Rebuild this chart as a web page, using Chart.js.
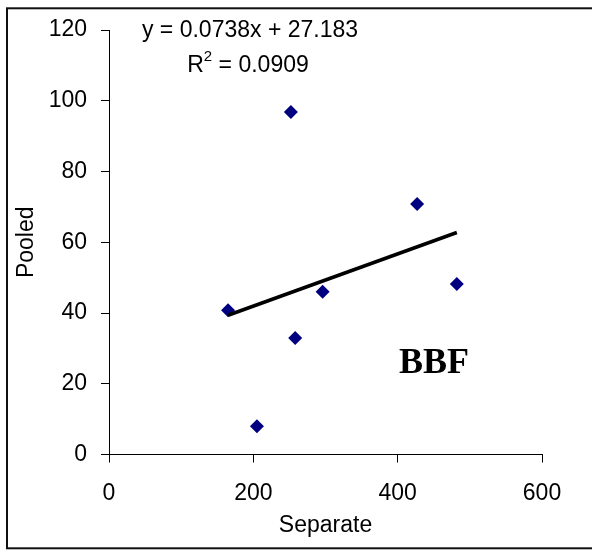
<!DOCTYPE html>
<html>
<head>
<meta charset="utf-8">
<script src="https://cdn.jsdelivr.net/npm/chart.js@4/dist/chart.umd.min.js"></script>
<style>
  html, body { margin: 0; padding: 0; background: #fff; }
  #wrap { width: 592px; height: 550px; }
</style>
</head>
<body>
<div id="wrap"><canvas id="bbfChart" width="592" height="550"></canvas></div>
<script>
const separate = [165, 205, 252, 258, 296, 427, 482];
const pooled = [40.8, 8, 96.8, 32.9, 46, 70.8, 48.2];
const xTicks = [0, 200, 400, 600];
const yTicks = [0, 20, 40, 60, 80, 100, 120];

// trendline as printed on the chart
const slope = 0.0738;
const intercept = 27.183;
const eqLabel = 'y = 0.0738x + 27.183';
const r2Label = '0.0909';
const tagLabel = 'BBF';

const sans = '"Liberation Sans", Arial, sans-serif';
const serif = '"Liberation Serif", "Times New Roman", serif';

const points = separate.map((x, i) => ({ x: x, y: pooled[i] }));
const xMin = Math.min(...separate);
const xMax = Math.max(...separate);
const trend = [
  { x: xMin, y: slope * xMin + intercept },
  { x: xMax, y: slope * xMax + intercept }
];

// white page + frame
const frame = {
  id: 'frame',
  beforeDraw(chart) {
    const ctx = chart.ctx;
    ctx.save();
    ctx.fillStyle = '#fff';
    ctx.fillRect(0, 0, chart.width, chart.height);
    ctx.strokeStyle = '#111';
    ctx.lineWidth = 2;
    ctx.strokeRect(7, 8.3, 600, 540);
    ctx.restore();
  }
};

// equation, R squared and the BBF tag
const notes = {
  id: 'notes',
  afterDraw(chart) {
    const ctx = chart.ctx;
    ctx.save();
    ctx.fillStyle = '#000';
    ctx.textBaseline = 'alphabetic';
    ctx.font = '23px ' + sans;
    ctx.textAlign = 'center';
    ctx.fillText(eqLabel, 250, 37);

    ctx.textAlign = 'left';
    const big = '23px ' + sans;
    const small = '15px ' + sans;
    ctx.font = big;
    const wR = ctx.measureText('R').width;
    const wRest = ctx.measureText(' = ' + r2Label).width;
    ctx.font = small;
    const w2 = ctx.measureText('2').width;
    let x = 248 - (wR + w2 + wRest) / 2;
    ctx.font = big;
    ctx.fillText('R', x, 72);
    x += wR;
    ctx.font = small;
    ctx.fillText('2', x, 61);
    x += w2;
    ctx.font = big;
    ctx.fillText(' = ' + r2Label, x, 72);

    ctx.font = 'bold 36px ' + serif;
    ctx.textAlign = 'center';
    ctx.fillText(tagLabel, 434, 373);
    ctx.restore();
  }
};

new Chart(document.getElementById('bbfChart'), {
  type: 'scatter',
  data: {
    datasets: [
      {
        label: 'trend',
        data: trend,
        showLine: true,
        borderColor: '#000',
        borderWidth: 3.5,
        pointRadius: 0,
        pointHoverRadius: 0,
        fill: false
      },
      {
        label: 'BBF',
        data: points,
        pointStyle: 'rectRot',
        pointRadius: 7,
        pointHoverRadius: 7,
        backgroundColor: '#000080',
        borderColor: '#000080',
        borderWidth: 0
      }
    ]
  },
  options: {
    responsive: false,
    animation: false,
    layout: { padding: { left: 0, right: 50, top: 30, bottom: 0 } },
    plugins: {
      legend: { display: false },
      tooltip: { enabled: false }
    },
    scales: {
      x: {
        type: 'linear',
        min: xTicks[0],
        max: xTicks[xTicks.length - 1],
        afterBuildTicks: s => { s.ticks = xTicks.map(v => ({ value: v })); },
        afterFit: s => { s.height = 95.5; },
        grid: { drawOnChartArea: false, color: '#000', tickLength: 8 },
        border: { color: '#000', width: 1 },
        ticks: { color: '#000', padding: 17, font: { family: sans, size: 23 } },
        title: {
          display: true,
          text: 'Separate',
          color: '#000',
          padding: { top: 0, bottom: 11 },
          font: { family: sans, size: 23 }
        }
      },
      y: {
        type: 'linear',
        min: yTicks[0],
        max: yTicks[yTicks.length - 1],
        afterBuildTicks: s => { s.ticks = yTicks.map(v => ({ value: v })); },
        afterFit: s => { s.width = 109; },
        grid: { drawOnChartArea: false, color: '#000', tickLength: 8 },
        border: { color: '#000', width: 1 },
        ticks: { color: '#000', padding: 14, font: { family: sans, size: 23 } },
        title: {
          display: true,
          text: 'Pooled',
          color: '#000',
          padding: { top: 13, bottom: 0 },
          font: { family: sans, size: 23 }
        }
      }
    }
  },
  plugins: [frame, notes]
});
</script>
</body>
</html>
